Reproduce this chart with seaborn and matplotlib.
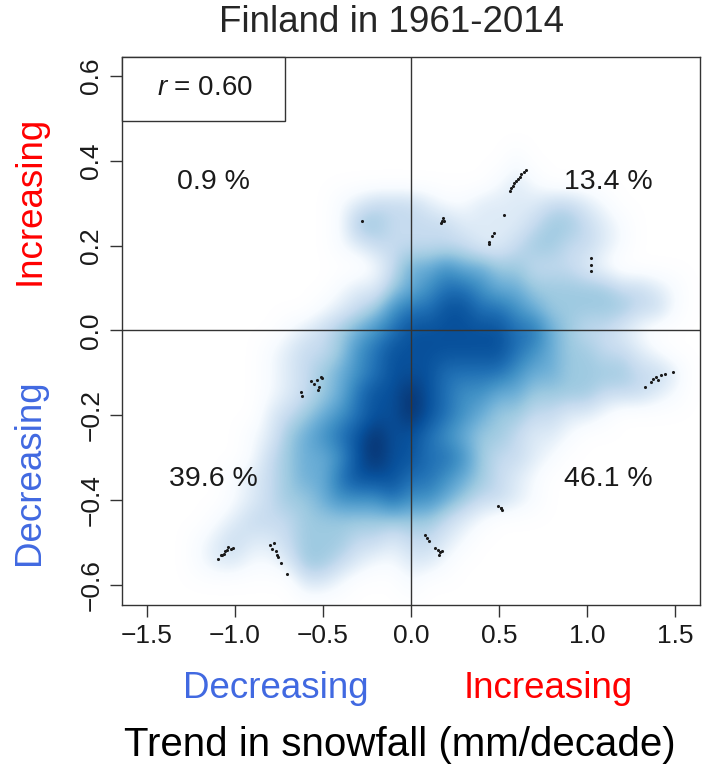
import numpy as np
import matplotlib
matplotlib.use("Agg")
import matplotlib.pyplot as plt
from matplotlib.colors import LinearSegmentedColormap
from matplotlib.patches import Rectangle
import seaborn as sns

sns.set_style("ticks")
plt.rcParams["font.family"] = ["Liberation Sans", "DejaVu Sans"]
plt.rcParams["mathtext.fontset"] = "custom"
plt.rcParams["mathtext.it"] = "Liberation Sans:italic"
plt.rcParams["mathtext.rm"] = "Liberation Sans"

# ---------------- data ----------------
title = "Finland in 1961-2014"
x_label = "Trend in snowfall (mm/decade)"
r_value = "0.60"
quadrant_labels = ["0.9 %", "13.4 %", "39.6 %", "46.1 %"]
quadrant_x = [-1.12, 1.12, -1.12, 1.12]
quadrant_y = [0.35, 0.35, -0.35, -0.35]

x_ticks = [-1.5, -1.0, -0.5, 0.0, 0.5, 1.0, 1.5]
y_ticks = [-0.6, -0.4, -0.2, 0.0, 0.2, 0.4, 0.6]

# density grid (smoothed point density, level 0..9), columns x=-1.6..1.6 step 0.1
grid_x = [-1.6, -1.5, -1.4, -1.3, -1.2, -1.1, -1.0, -0.9, -0.8, -0.7, -0.6,
          -0.5, -0.4, -0.3, -0.2, -0.1, 0.0, 0.1, 0.2, 0.3, 0.4, 0.5, 0.6,
          0.7, 0.8, 0.9, 1.0, 1.1, 1.2, 1.3, 1.4, 1.5, 1.6]
grid_y = [0.65, 0.60, 0.55, 0.50, 0.45, 0.40, 0.35, 0.30, 0.25, 0.20, 0.15,
          0.10, 0.05, 0.00, -0.05, -0.10, -0.15, -0.20, -0.25, -0.30, -0.35,
          -0.40, -0.45, -0.50, -0.55, -0.60, -0.65]
density = [
    # -1.6                -1.1                -0.6                -0.1 0.0                 0.5                 1.0                 1.5
    [0,0,0,0,0, 0,0,0,0,0, 0,0,0,0,0, 0,0,0,0,0, 0,0,0,0,0, 0,0,0,0,0, 0,0,0],  # 0.65
    [0,0,0,0,0, 0,0,0,0,0, 0,0,0,0,0, 0,0,0,0,0, 0,0,0,0,0, 0,0,0,0,0, 0,0,0],  # 0.60
    [0,0,0,0,0, 0,0,0,0,0, 0,0,0,0,0, 0,0,0,0,0, 0,0,0,0,0, 0,0,0,0,0, 0,0,0],  # 0.55
    [0,0,0,0,0, 0,0,0,0,0, 0,0,0,0,0, 0,0,0,0,0, 0,0,0,0,0, 0,0,0,0,0, 0,0,0],  # 0.50
    [0,0,0,0,0, 0,0,0,0,0, 0,0,0,0,0, 0,0,0,0,0, 0,0,0,0,0, 0,0,0,0,0, 0,0,0],  # 0.45
    [0,0,0,0,0, 0,0,0,0,0, 0,0,0,0,0, 0,0,0,0,0, 0,0,1,0,0, 0,0,0,0,0, 0,0,0],  # 0.40
    [0,0,0,0,0, 0,0,0,0,0, 0,0,0,0,0, 0,0,0,0,0, 0,1,2,1,0, 0,0,0,0,0, 0,0,0],  # 0.35
    [0,0,0,0,0, 0,0,0,0,0, 0,0,1,2,3, 3,3,2,1,1, 2,2,2,2,3, 3,2,1,0,0, 0,0,0],  # 0.30
    [0,0,0,0,0, 0,0,0,0,0, 0,0,1,4,4, 3,3,3,3,2, 2,2,2,3,4, 4,3,2,1,0, 0,0,0],  # 0.25
    [0,0,0,0,0, 0,0,0,0,0, 0,0,1,2,3, 3,3,3,3,3, 2,2,3,4,4, 3,3,2,1,0, 0,0,0],  # 0.20
    [0,0,0,0,0, 0,0,0,0,0, 0,0,0,0,1, 3,5,5,6,5, 5,4,4,3,3, 3,2,1,0,0, 0,0,0],  # 0.15
    [0,0,0,0,0, 0,0,0,0,0, 0,0,1,2,2, 4,5,6,7,7, 6,5,5,4,4, 4,4,4,3,3, 2,1,0],  # 0.10
    [0,0,0,0,0, 0,0,0,0,0, 0,1,2,3,4, 6,7,7,8,8, 7,7,6,5,4, 4,4,4,4,3, 3,1,0],  # 0.05
    [0,0,0,0,0, 0,0,0,0,1, 2,3,4,5,6, 7,8,8,8,8, 8,8,7,7,5, 4,3,3,2,1, 0,0,0],  # 0.00
    [0,0,0,0,0, 0,0,0,1,2, 3,3,4,6,7, 8,8,8,8,8, 8,8,7,6,5, 4,4,3,3,2, 1,0,0],  # -0.05
    [0,0,0,0,0, 0,0,0,1,2, 3,4,5,6,7, 8,8,8,7,7, 7,7,6,5,5, 4,4,4,4,3, 3,2,0],  # -0.10
    [0,0,0,0,0, 0,0,0,1,2, 3,4,5,7,8, 8,9,8,7,6, 6,5,5,4,4, 4,4,3,3,3, 2,1,0],  # -0.15
    [0,0,0,0,0, 0,0,0,2,3, 4,5,6,7,8, 8,9,8,7,6, 5,4,4,3,3, 2,2,1,0,0, 0,0,0],  # -0.20
    [0,0,0,0,0, 0,0,1,2,4, 5,6,7,8,9, 8,8,7,6,5, 4,4,3,2,2, 1,0,0,0,0, 0,0,0],  # -0.25
    [0,0,0,0,0, 0,0,1,3,4, 5,5,6,8,9, 8,8,7,7,6, 4,3,3,2,1, 0,0,0,0,0, 0,0,0],  # -0.30
    [0,0,0,0,0, 0,1,2,3,4, 5,5,7,8,8, 8,7,7,6,5, 4,3,2,1,0, 0,0,0,0,0, 0,0,0],  # -0.35
    [0,0,0,0,0, 0,1,2,3,4, 4,5,6,6,6, 7,6,6,5,4, 3,3,2,1,0, 0,0,0,0,0, 0,0,0],  # -0.40
    [0,0,0,0,0, 1,2,3,3,3, 4,4,4,4,4, 4,4,4,3,2, 1,0,0,0,0, 0,0,0,0,0, 0,0,0],  # -0.45
    [0,0,0,0,1, 2,3,2,2,3, 4,4,4,3,3, 2,3,3,2,1, 0,0,0,0,0, 0,0,0,0,0, 0,0,0],  # -0.50
    [0,0,0,0,1, 2,2,1,1,2, 4,4,3,2,1, 1,2,2,1,0, 0,0,0,0,0, 0,0,0,0,0, 0,0,0],  # -0.55
    [0,0,0,0,0, 0,0,0,0,0, 2,2,1,0,0, 0,1,0,0,0, 0,0,0,0,0, 0,0,0,0,0, 0,0,0],  # -0.60
    [0,0,0,0,0, 0,0,0,0,0, 0,0,0,0,0, 0,0,0,0,0, 0,0,0,0,0, 0,0,0,0,0, 0,0,0],  # -0.65
]

# isolated points (outliers drawn as dots)
dots_x = [0.559, 0.568, 0.578, 0.587, 0.597, 0.606, 0.616, 0.625, 0.644, 0.653,
          0.527,
          0.470, 0.460, 0.441, 0.441,
          0.170, 0.184, 0.189, 0.176,
          1.023, 1.023, 1.023,
          -0.280,
          1.326, 1.364, 1.373, 1.392, 1.400, 1.420, 1.440, 1.487,
          -0.625, -0.621, -0.568, -0.549, -0.536, -0.511, -0.521, -0.530, -0.506,
          -1.098, -1.080, -1.070, -1.057, -1.045, -1.038, -1.023, -1.011, -1.061,
          -0.799, -0.780, -0.786, -0.767, -0.761, -0.757, -0.739, -0.705,
          0.080, 0.091, 0.104, 0.136, 0.152, 0.161, 0.174, 0.167,
          0.496, 0.508, 0.515, 0.511]
dots_y = [0.330, 0.335, 0.341, 0.347, 0.352, 0.358, 0.363, 0.368, 0.373, 0.378,
          0.273,
          0.230, 0.222, 0.209, 0.203,
          0.254, 0.264, 0.259, 0.257,
          0.171, 0.155, 0.139,
          0.259,
          -0.134, -0.122, -0.114, -0.110, -0.118, -0.106, -0.102, -0.098,
          -0.146, -0.154, -0.120, -0.126, -0.117, -0.110, -0.134, -0.140, -0.113,
          -0.540, -0.530, -0.529, -0.521, -0.518, -0.511, -0.516, -0.514, -0.527,
          -0.507, -0.501, -0.515, -0.521, -0.530, -0.534, -0.548, -0.574,
          -0.483, -0.489, -0.497, -0.513, -0.518, -0.529, -0.521, -0.524,
          -0.414, -0.418, -0.424, -0.420]

# ---------------- style ----------------
blues = ["#FFFFFF", "#F7FBFF", "#DEEBF7", "#C6DBEF", "#9ECAE1",
         "#6BAED6", "#4292C6", "#2171B5", "#08519C", "#08306B"]
cmap = LinearSegmentedColormap.from_list("smooth_blues", blues)
cmap.set_under("#FFFFFF")

W, H = 703, 771
fig = plt.figure(figsize=(W / 100, H / 100), dpi=100)
ax = fig.add_axes([122 / W, 1 - 605 / H, 578 / W, 548 / H])

dx = grid_x[1] - grid_x[0]
dy = grid_y[0] - grid_y[1]
ax.imshow(np.array(density, dtype=float),
          extent=(grid_x[0] - dx / 2, grid_x[-1] + dx / 2,
                  grid_y[-1] - dy / 2, grid_y[0] + dy / 2),
          origin="upper", cmap=cmap, vmin=0, vmax=9,
          interpolation="bicubic", aspect="auto", zorder=0)

sns.scatterplot(x=dots_x, y=dots_y, s=5, color="#1a1a1a", linewidth=0,
                ax=ax, legend=False, zorder=3)

ax.axvline(0, color="#333333", lw=1.0, zorder=2)
ax.axhline(0, color="#333333", lw=1.0, zorder=2)

ax.set_xlim(-1.64, 1.64)
ax.set_ylim(-0.648, 0.645)

def fmt(v):
    return f"{v:.1f}".replace("-", "\u2212")

ax.set_xticks(x_ticks)
ax.set_xticklabels([fmt(v) for v in x_ticks], fontsize=19, color="#1a1a1a")
ax.set_yticks(y_ticks)
ax.set_yticklabels([fmt(v) for v in y_ticks], fontsize=19, color="#1a1a1a",
                   rotation=90, va="center")
ax.tick_params(axis="both", length=8.5, width=1, color="#333333", pad=5)
for s in ax.spines.values():
    s.set_color("#333333")
    s.set_linewidth(1.0)

# r box
ax.add_patch(Rectangle((0, 1 - 0.117), 0.282, 0.117, transform=ax.transAxes,
                       facecolor="white", edgecolor="#333333", lw=1.0,
                       zorder=5, clip_on=False))
ax.text(0.1436, 0.943, r"$r$ = " + r_value, transform=ax.transAxes,
        ha="center", va="center", fontsize=20, color="#1a1a1a", zorder=6)

for lab, qx, qy in zip(quadrant_labels, quadrant_x, quadrant_y):
    ax.text(qx, qy, lab, ha="center", va="center", fontsize=20.5,
            color="#1a1a1a", zorder=6)

fig.text(392 / W, 1 - 22 / H, title, ha="center", va="center", fontsize=26.5)
fig.text(30 / W, 1 - 200 / H, "Increasing", rotation=90, ha="center",
         va="center", fontsize=26.5, color="#FF0000")
fig.text(30 / W, 1 - 472 / H, "Decreasing", rotation=90, ha="center",
         va="center", fontsize=26.5, color="#4169E1")
fig.text(276 / W, 1 - 688 / H, "Decreasing", ha="center", va="center",
         fontsize=26.5, color="#4169E1")
fig.text(548 / W, 1 - 688 / H, "Increasing", ha="center", va="center",
         fontsize=26.5, color="#FF0000")
fig.text(124 / W, 1 - 745 / H, x_label, ha="left", va="center",
         fontsize=29, color="black")

fig.savefig("out.png", dpi=100)
